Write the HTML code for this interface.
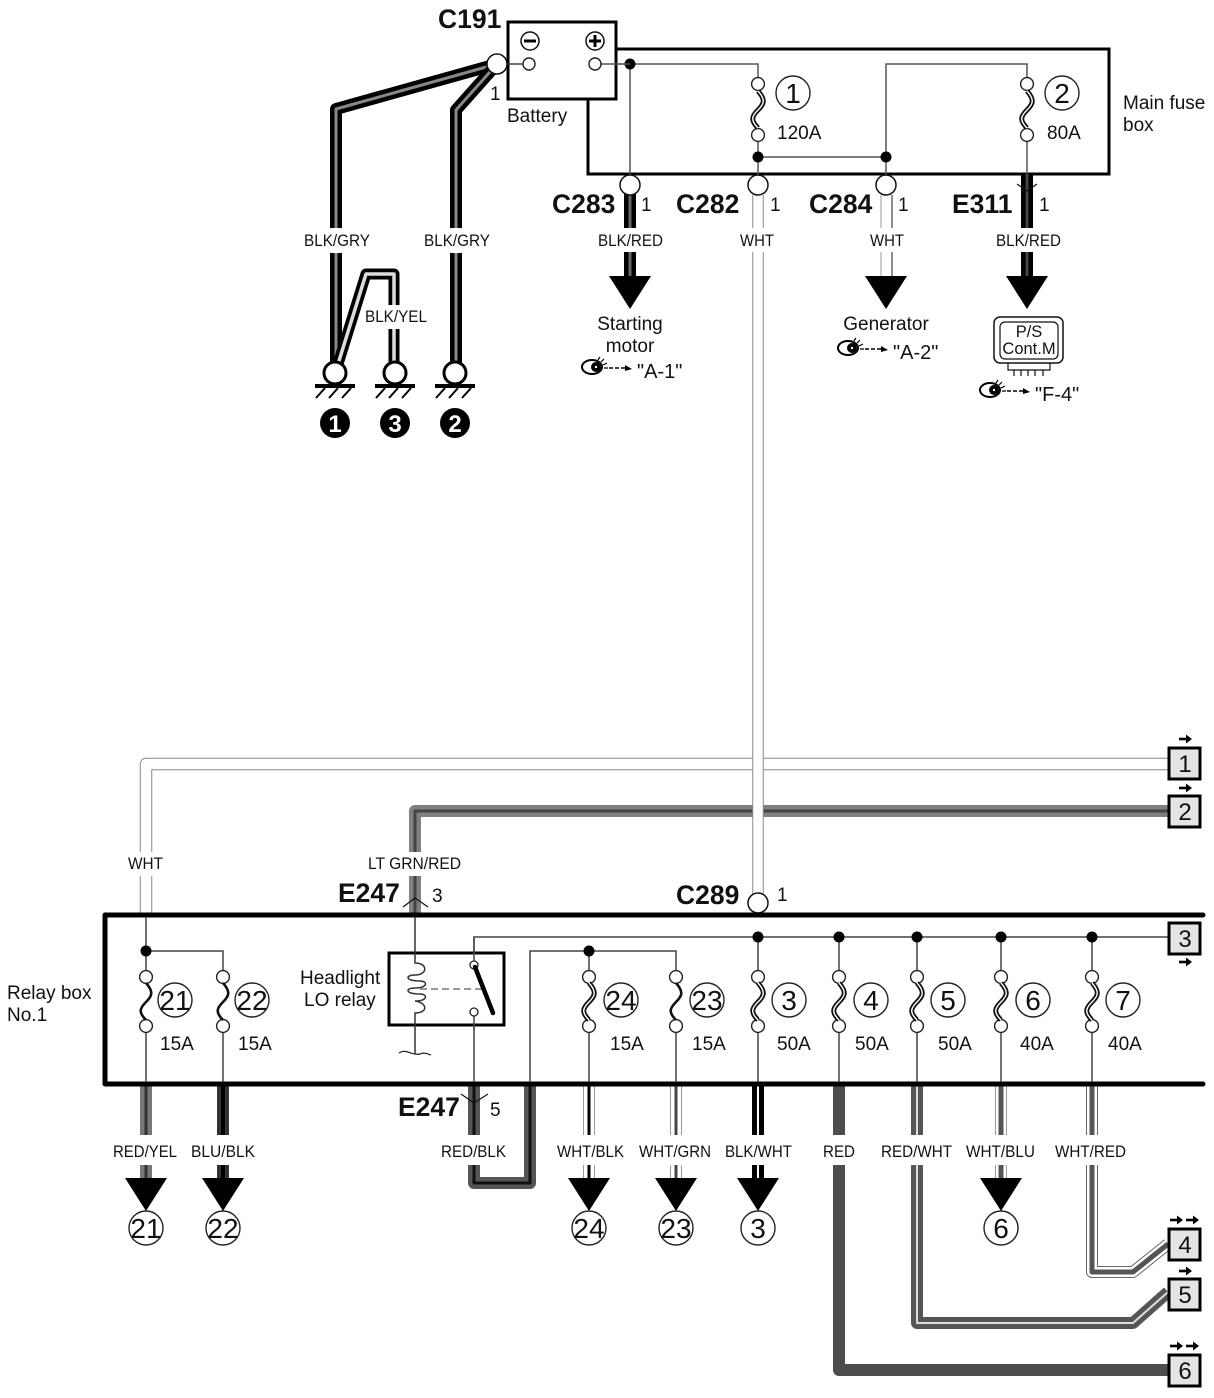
<!DOCTYPE html>
<html><head><meta charset="utf-8"><style>
html,body{margin:0;padding:0;background:#fff}
svg{display:block}
text{font-family:"Liberation Sans",sans-serif;fill:#111}
.b{font-weight:bold;font-size:26.5px}
.n{font-size:19px}
.t{font-size:17px}
.c{font-size:28px;text-anchor:middle}
.a{font-size:19px}
.box{font-size:24px;text-anchor:middle}
</style></head><body>
<svg width="1214" height="1398" viewBox="0 0 1214 1398" xmlns="http://www.w3.org/2000/svg">
<defs>
<g id="fs"><path d="M0,6 C8,15 6,19 0,25 C-6,31 -8,35 0,43" fill="none" stroke="#111" stroke-width="2.6"/></g>
<g id="fd"><path d="M0,6 C8,15 6,19 0,25 C-6,31 -8,35 0,43" fill="none" stroke="#111" stroke-width="5"/><path d="M0,6 C8,15 6,19 0,25 C-6,31 -8,35 0,43" fill="none" stroke="#fff" stroke-width="1.4"/></g>
<path id="tri" d="M-21,0 H21 L0,33 Z" fill="#000"/>
<g id="eye"><ellipse cx="0" cy="0" rx="10" ry="7" fill="#fff" stroke="#000" stroke-width="2"/><circle cx="4" cy="0" r="5" fill="#000"/><circle cx="4" cy="0" r="1.2" fill="#fff"/><path d="M6,-7 L8,-10 M9,-5 L12,-8 M11,-2 L15,-4 M12,1 L16,1" stroke="#000" stroke-width="1.2"/><path d="M17,1 H33" stroke="#000" stroke-width="1.4" stroke-dasharray="4 2"/><path d="M33,-2 L40,2 L33,4 Z" fill="#000"/></g>
<g id="ar"><path d="M-6,0 H2" stroke="#000" stroke-width="2.6"/><path d="M1,-4.5 L7,0 L1,4.5 Z" fill="#000"/></g>
<g id="gnd"><circle r="11" fill="#fff" stroke="#000" stroke-width="3"/><path d="M-20,13 H20" stroke="#000" stroke-width="4"/><path d="M-10,15 L-19,25 M3,15 L-6,25 M16,15 L7,25" stroke="#000" stroke-width="2"/></g>
<circle id="term" r="6.4" fill="#fff" stroke="#222" stroke-width="1.4"/>
<circle id="dot" r="5.5" fill="#000"/>
</defs>
<rect width="1214" height="1398" fill="#fff"/>

<!-- ground wires -->
<g fill="none" stroke-linejoin="round">
<path d="M497,64 L336,109 V365" stroke="#000" stroke-width="12"/>
<path d="M497,64 L336,109 V365" stroke="#888" stroke-width="3"/>
<path d="M497,64 L456,110 V365" stroke="#000" stroke-width="12"/>
<path d="M497,64 L456,110 V365" stroke="#888" stroke-width="3"/>
<path d="M338,364 L366,274 H394 V365" stroke="#000" stroke-width="11"/>
<path d="M338,364 L366,274 H394 V365" stroke="#ddd" stroke-width="3.5"/>
</g>
<rect x="300" y="228" width="75" height="25" fill="#fff"/>
<rect x="420" y="228" width="75" height="25" fill="#fff"/>
<rect x="362" y="305" width="68" height="24" fill="#fff"/>

<!-- main fuse box -->
<rect x="588" y="49" width="521" height="125" fill="#fff" stroke="#000" stroke-width="3"/>
<g fill="none" stroke="#555" stroke-width="1.5">
<path d="M601,64 H758 V79"/>
<path d="M630,64 V175"/>
<path d="M758,141 V175"/>
<path d="M758,157 H886"/>
<path d="M886,175 V64 H1027 V79"/>
<path d="M1027,141 V175"/>
</g>
<use href="#term" x="758" y="84"/><use href="#term" x="758" y="135"/>
<use href="#term" x="1027" y="84"/><use href="#term" x="1027" y="135"/>
<use href="#fd" x="758" y="85"/><use href="#fd" x="1027" y="85"/>
<use href="#dot" x="758" y="157"/><use href="#dot" x="886" y="157"/>
<use href="#dot" x="630" y="64"/>
<circle cx="793" cy="93" r="17" fill="#fff" stroke="#222" stroke-width="1.4"/>
<circle cx="1062" cy="93" r="17" fill="#fff" stroke="#222" stroke-width="1.4"/>
<text class="c" x="793" y="103">1</text><text class="c" x="1062" y="103">2</text>
<text class="a" x="777" y="139">120A</text><text class="a" x="1047" y="139">80A</text>

<!-- battery -->
<rect x="508" y="22" width="108" height="77" fill="#fff" stroke="#000" stroke-width="3"/>
<path d="M507,64 H523" stroke="#333" stroke-width="1.4"/>
<path d="M601,64 H630" stroke="#555" stroke-width="1.5"/>
<circle cx="529" cy="64" r="6" fill="#fff" stroke="#222" stroke-width="1.4"/><circle cx="595" cy="64" r="6" fill="#fff" stroke="#222" stroke-width="1.4"/>
<circle cx="530" cy="41" r="9" fill="#fff" stroke="#111" stroke-width="1.5"/>
<path d="M524,41 H536" stroke="#000" stroke-width="3"/>
<circle cx="595" cy="41" r="9" fill="#fff" stroke="#111" stroke-width="1.5"/>
<path d="M589,41 H601 M595,35 V47" stroke="#000" stroke-width="3"/>
<circle cx="497" cy="64" r="10" fill="#fff" stroke="#111" stroke-width="1.5"/>
<text class="b" x="438" y="28">C191</text>
<text class="n" x="490" y="100">1</text>
<text class="a" x="507" y="122">Battery</text>
<text class="a" x="1123" y="109">Main fuse</text>
<text class="a" x="1123" y="131">box</text>

<!-- outgoing from main box -->
<path d="M630,190 V278" stroke="#000" stroke-width="12"/>
<path d="M630,190 V278" stroke="#666" stroke-width="3"/>
<path d="M1027,174 V278" stroke="#000" stroke-width="12"/>
<path d="M1027,174 V278" stroke="#444" stroke-width="3"/>
<path d="M881,195 V278" stroke="#aaa" stroke-width="1.2"/>
<path d="M892,195 V278" stroke="#444" stroke-width="1.2"/>
<path d="M1017,184 L1027,191 L1037,184" fill="none" stroke="#111" stroke-width="1.2"/>
<circle cx="630" cy="185" r="10" fill="#fff" stroke="#111" stroke-width="1.5"/>
<circle cx="886" cy="185" r="10" fill="#fff" stroke="#111" stroke-width="1.5"/>
<rect x="590" y="228" width="80" height="24" fill="#fff"/>
<rect x="865" y="228" width="44" height="24" fill="#fff"/>
<rect x="990" y="228" width="76" height="24" fill="#fff"/>
<use href="#tri" x="630" y="276"/><use href="#tri" x="886" y="276"/><use href="#tri" x="1027" y="276"/>
<text class="b" x="552" y="213">C283</text><text class="n" x="641" y="211">1</text>
<text class="b" x="676" y="213">C282</text><text class="n" x="770" y="211">1</text>
<text class="b" x="809" y="213">C284</text><text class="n" x="898" y="211">1</text>
<text class="b" x="952" y="213">E311</text><text class="n" x="1039" y="211">1</text>
<text class="t" x="304" y="246" textLength="66" lengthAdjust="spacingAndGlyphs">BLK/GRY</text>
<text class="t" x="424" y="246" textLength="66" lengthAdjust="spacingAndGlyphs">BLK/GRY</text>
<text class="t" x="365" y="322" textLength="62" lengthAdjust="spacingAndGlyphs">BLK/YEL</text>
<text class="t" x="598" y="246" textLength="65" lengthAdjust="spacingAndGlyphs">BLK/RED</text>
<text class="t" x="870" y="246" textLength="34" lengthAdjust="spacingAndGlyphs">WHT</text>
<text class="t" x="996" y="246" textLength="65" lengthAdjust="spacingAndGlyphs">BLK/RED</text>
<text class="a" x="630" y="330" text-anchor="middle">Starting</text>
<text class="a" x="630" y="352" text-anchor="middle">motor</text>
<text class="a" x="886" y="330" text-anchor="middle">Generator</text>
<use href="#eye" x="592" y="367"/><use href="#eye" x="848" y="348"/><use href="#eye" x="990" y="390"/>
<text x="637" y="378" style="font-size:20px">"A-1"</text>
<text x="893" y="359" style="font-size:20px">"A-2"</text>
<text x="1035" y="401" style="font-size:20px">"F-4"</text>
<rect x="994" y="317" width="69" height="46" rx="6" fill="#fff" stroke="#111" stroke-width="1.5"/>
<rect x="1000" y="322" width="58" height="37" rx="5" fill="#fff" stroke="#111" stroke-width="1.2"/>
<path d="M1008,363 V370 H1050 V363 M1014,370 V376 M1021,370 V376 M1028,370 V376 M1035,370 V376 M1043,370 V376" fill="none" stroke="#111" stroke-width="1.2"/>
<text x="1029" y="337" text-anchor="middle" style="font-size:16.5px">P/S</text>
<text x="1029" y="354" text-anchor="middle" style="font-size:16.5px">Cont.M</text>

<!-- ground symbols -->
<use href="#gnd" x="335" y="373"/><use href="#gnd" x="395" y="373"/><use href="#gnd" x="455" y="373"/>
<g style="font-weight:bold;font-size:24px" text-anchor="middle">
<circle cx="335" cy="423" r="15" fill="#000"/><text x="335" y="432" style="fill:#fff">1</text>
<circle cx="395" cy="423" r="15" fill="#000"/><text x="395" y="432" style="fill:#fff">3</text>
<circle cx="455" cy="423" r="15" fill="#000"/><text x="455" y="432" style="fill:#fff">2</text>
</g>

<!-- wire 1 -->
<path d="M146,915 V764 H1168" fill="none" stroke="#888" stroke-width="12.5" stroke-linejoin="round"/>
<path d="M146,915 V764 H1168" fill="none" stroke="#fff" stroke-width="10.5" stroke-linejoin="round"/>
<!-- wire 2 -->
<path d="M415,915 V811 H1168" fill="none" stroke="#808080" stroke-width="12" stroke-linejoin="round"/>
<path d="M415,915 V811 H1168" fill="none" stroke="#444" stroke-width="3" stroke-linejoin="round"/>
<!-- C282 vertical -->
<path d="M758,195 V895" stroke="#888" stroke-width="11.5"/>
<path d="M758,195 V895" stroke="#fff" stroke-width="9.5"/>
<circle cx="758" cy="185" r="10" fill="#fff" stroke="#111" stroke-width="1.5"/>
<circle cx="758" cy="903" r="10" fill="#fff" stroke="#111" stroke-width="1.5"/>
<rect x="736" y="228" width="44" height="24" fill="#fff"/>
<rect x="124" y="852" width="44" height="24" fill="#fff"/>
<rect x="364" y="852" width="102" height="24" fill="#fff"/>
<text class="t" x="128" y="869" textLength="35" lengthAdjust="spacingAndGlyphs">WHT</text>
<text class="t" x="368" y="869" textLength="93" lengthAdjust="spacingAndGlyphs">LT GRN/RED</text>
<text class="t" x="740" y="246" textLength="34" lengthAdjust="spacingAndGlyphs">WHT</text>
<text class="b" x="338" y="902">E247</text><text class="n" x="432" y="902">3</text>
<text class="b" x="676" y="904">C289</text><text class="n" x="777" y="901">1</text>
<path d="M403,907 L415,898 L428,907" fill="none" stroke="#111" stroke-width="1.2"/>

<!-- bottom wires below relay box -->
<g fill="none" stroke-linejoin="round">
<path d="M146,1084 V1180" stroke="#777" stroke-width="12"/><path d="M146,1084 V1180" stroke="#333" stroke-width="3"/>
<path d="M223,1084 V1180" stroke="#333" stroke-width="12"/><path d="M223,1084 V1180" stroke="#000" stroke-width="4"/>
<path d="M474,1084 V1183 H530 V1084" stroke="#555" stroke-width="12"/><path d="M474,1084 V1183 H530 V1084" stroke="#111" stroke-width="3"/>
<path d="M589,1084 V1180" stroke="#999" stroke-width="12"/><path d="M589,1084 V1180" stroke="#fff" stroke-width="10"/><path d="M589,1084 V1180" stroke="#000" stroke-width="3"/>
<path d="M676,1084 V1180" stroke="#999" stroke-width="12"/><path d="M676,1084 V1180" stroke="#fff" stroke-width="10"/><path d="M676,1084 V1180" stroke="#444" stroke-width="3"/>
<path d="M758,1084 V1180" stroke="#000" stroke-width="12"/><path d="M758,1084 V1180" stroke="#fff" stroke-width="2"/>
<path d="M839,1084 V1370 H1168" stroke="#4d4d4d" stroke-width="12"/>
<path d="M917,1084 V1323 H1133 L1168,1292" stroke="#555" stroke-width="12"/><path d="M917,1084 V1323 H1133 L1168,1292" stroke="#ddd" stroke-width="2"/>
<path d="M1001,1084 V1180" stroke="#999" stroke-width="12"/><path d="M1001,1084 V1180" stroke="#fff" stroke-width="10"/><path d="M1001,1084 V1180" stroke="#555" stroke-width="5"/>
<path d="M1092,1084 V1272 H1133 L1168,1244" stroke="#666" stroke-width="12"/><path d="M1092,1084 V1272 H1133 L1168,1244" stroke="#fff" stroke-width="10"/><path d="M1092,1084 V1272 H1133 L1168,1244" stroke="#555" stroke-width="5"/>
</g>
<g fill="#fff">
<rect x="110" y="1135" width="70" height="30"/><rect x="188" y="1135" width="70" height="30"/>
<rect x="438" y="1135" width="72" height="30"/><rect x="553" y="1135" width="74" height="30"/>
<rect x="636" y="1135" width="78" height="30"/><rect x="722" y="1135" width="73" height="30"/>
<rect x="820" y="1135" width="38" height="30"/><rect x="878" y="1135" width="77" height="30"/>
<rect x="963" y="1135" width="75" height="30"/><rect x="1052" y="1135" width="77" height="30"/>
</g>
<g>
<text class="t" x="113" y="1157" textLength="64" lengthAdjust="spacingAndGlyphs">RED/YEL</text>
<text class="t" x="191" y="1157" textLength="64" lengthAdjust="spacingAndGlyphs">BLU/BLK</text>
<text class="t" x="441" y="1157" textLength="65" lengthAdjust="spacingAndGlyphs">RED/BLK</text>
<text class="t" x="557" y="1157" textLength="67" lengthAdjust="spacingAndGlyphs">WHT/BLK</text>
<text class="t" x="639" y="1157" textLength="72" lengthAdjust="spacingAndGlyphs">WHT/GRN</text>
<text class="t" x="725" y="1157" textLength="67" lengthAdjust="spacingAndGlyphs">BLK/WHT</text>
<text class="t" x="823" y="1157" textLength="32" lengthAdjust="spacingAndGlyphs">RED</text>
<text class="t" x="881" y="1157" textLength="71" lengthAdjust="spacingAndGlyphs">RED/WHT</text>
<text class="t" x="966" y="1157" textLength="69" lengthAdjust="spacingAndGlyphs">WHT/BLU</text>
<text class="t" x="1055" y="1157" textLength="71" lengthAdjust="spacingAndGlyphs">WHT/RED</text>
</g>
<use href="#tri" x="146" y="1178"/><use href="#tri" x="223" y="1178"/><use href="#tri" x="589" y="1178"/><use href="#tri" x="676" y="1178"/><use href="#tri" x="758" y="1178"/><use href="#tri" x="1001" y="1178"/>
<g fill="#fff" stroke="#222" stroke-width="1.4">
<circle cx="146" cy="1228" r="17"/><circle cx="223" cy="1228" r="17"/><circle cx="589" cy="1228" r="17"/><circle cx="676" cy="1228" r="17"/><circle cx="758" cy="1228" r="17"/><circle cx="1001" cy="1228" r="17"/>
</g>
<text class="c" x="146" y="1238">21</text><text class="c" x="223" y="1238">22</text><text class="c" x="589" y="1238">24</text><text class="c" x="676" y="1238">23</text><text class="c" x="758" y="1238">3</text><text class="c" x="1001" y="1238">6</text>

<!-- relay box frame -->
<path d="M1203,915 H105 V1084 H1203" fill="none" stroke="#000" stroke-width="5" stroke-linecap="round" stroke-linejoin="round"/>
<text class="a" x="7" y="999">Relay box</text><text class="a" x="7" y="1021">No.1</text>

<!-- relay box internals -->
<g fill="none" stroke="#444" stroke-width="1.5">
<path d="M146,917 V971 M146,1032 V1082"/>
<path d="M146,951 H223 V971 M223,1032 V1082"/>
<path d="M530,1082 V951 H676 V971 M676,1032 V1082"/>
<path d="M589,951 V971 M589,1032 V1082"/>
<path d="M474,961 V937 H1168"/>
<path d="M758,937 V971 M758,1032 V1082"/>
<path d="M839,937 V971 M839,1032 V1082"/>
<path d="M917,937 V971 M917,1032 V1082"/>
<path d="M1001,937 V971 M1001,1032 V1082"/>
<path d="M1092,937 V971 M1092,1032 V1082"/>
<path d="M474,1016 V1082"/>
</g>
<use href="#dot" x="146" y="951"/><use href="#dot" x="589" y="951"/>
<use href="#dot" x="758" y="937"/><use href="#dot" x="839" y="937"/><use href="#dot" x="917" y="937"/><use href="#dot" x="1001" y="937"/><use href="#dot" x="1092" y="937"/>
<g>
<use href="#term" x="146" y="977"/><use href="#term" x="146" y="1026"/>
<use href="#term" x="223" y="977"/><use href="#term" x="223" y="1026"/>
<use href="#term" x="589" y="977"/><use href="#term" x="589" y="1026"/>
<use href="#term" x="676" y="977"/><use href="#term" x="676" y="1026"/>
<use href="#term" x="758" y="977"/><use href="#term" x="758" y="1026"/>
<use href="#term" x="839" y="977"/><use href="#term" x="839" y="1026"/>
<use href="#term" x="917" y="977"/><use href="#term" x="917" y="1026"/>
<use href="#term" x="1001" y="977"/><use href="#term" x="1001" y="1026"/>
<use href="#term" x="1092" y="977"/><use href="#term" x="1092" y="1026"/>
</g>
<use href="#fs" x="146" y="977"/><use href="#fs" x="223" y="977"/><use href="#fs" x="676" y="977"/>
<use href="#fd" x="589" y="977"/><use href="#fd" x="758" y="977"/><use href="#fd" x="839" y="977"/><use href="#fd" x="917" y="977"/><use href="#fd" x="1001" y="977"/><use href="#fd" x="1092" y="977"/>
<g fill="#fff" stroke="#222" stroke-width="1.4">
<circle cx="175" cy="1000" r="17"/><circle cx="252" cy="1000" r="17"/><circle cx="621" cy="1000" r="17"/><circle cx="707" cy="1000" r="17"/><circle cx="789" cy="1000" r="17"/><circle cx="871" cy="1000" r="17"/><circle cx="948" cy="1000" r="17"/><circle cx="1033" cy="1000" r="17"/><circle cx="1123" cy="1000" r="17"/>
</g>
<text class="c" x="175" y="1010">21</text><text class="c" x="252" y="1010">22</text><text class="c" x="621" y="1010">24</text><text class="c" x="707" y="1010">23</text><text class="c" x="789" y="1010">3</text><text class="c" x="871" y="1010">4</text><text class="c" x="948" y="1010">5</text><text class="c" x="1033" y="1010">6</text><text class="c" x="1123" y="1010">7</text>
<text class="a" x="160" y="1050">15A</text><text class="a" x="238" y="1050">15A</text><text class="a" x="610" y="1050">15A</text><text class="a" x="692" y="1050">15A</text><text class="a" x="777" y="1050">50A</text><text class="a" x="855" y="1050">50A</text><text class="a" x="938" y="1050">50A</text><text class="a" x="1020" y="1050">40A</text><text class="a" x="1108" y="1050">40A</text>

<!-- relay -->
<rect x="389" y="953" width="115" height="72" fill="#fff" stroke="#000" stroke-width="3"/>
<path d="M415,917 V963 C428,963 428,975 415,975 C405,975 405,981 420,981 C428,981 428,988 415,988 C405,988 405,994 420,994 C428,994 428,1001 415,1001 C428,1003 428,1013 415,1013 V1054" fill="none" stroke="#333" stroke-width="1.5"/>
<path d="M399,1053 C406,1048 412,1056 420,1054 C424,1052 428,1054 431,1055" fill="none" stroke="#222" stroke-width="1.2"/>
<path d="M420,989 H482" stroke="#777" stroke-width="1.6" stroke-dasharray="7 4"/>
<path d="M474,937 V961 M474,1016 V1030" stroke="#444" stroke-width="1.5"/>
<circle cx="474" cy="965" r="4" fill="#fff" stroke="#222" stroke-width="1.3"/>
<circle cx="474" cy="1012" r="4" fill="#fff" stroke="#222" stroke-width="1.3"/>
<path d="M475,967 L493,1013" stroke="#000" stroke-width="4.5" stroke-linecap="round"/>
<text x="300" y="984" style="font-size:19px">Headlight</text>
<text x="304" y="1006" style="font-size:19px">LO relay</text>
<text class="b" x="398" y="1116">E247</text><text class="n" x="490" y="1116">5</text>
<path d="M461,1094 L474,1103 L488,1094" fill="none" stroke="#111" stroke-width="1.2"/>

<!-- boxes -->
<g fill="#e4e4e4" stroke="#000" stroke-width="3">
<rect x="1169" y="748" width="31" height="31"/>
<rect x="1169" y="796" width="31" height="31"/>
<rect x="1169" y="923" width="31" height="31"/>
<rect x="1169" y="1229" width="31" height="31"/>
<rect x="1169" y="1279" width="31" height="31"/>
<rect x="1169" y="1355" width="31" height="31"/>
</g>
<text class="box" x="1185" y="772">1</text><text class="box" x="1185" y="820">2</text><text class="box" x="1185" y="947">3</text><text class="box" x="1185" y="1253">4</text><text class="box" x="1185" y="1303">5</text><text class="box" x="1185" y="1379">6</text>
<use href="#ar" x="1185" y="739"/><use href="#ar" x="1185" y="788"/><use href="#ar" x="1185" y="962"/>
<use href="#ar" x="1176" y="1220"/><use href="#ar" x="1192" y="1220"/>
<use href="#ar" x="1185" y="1271"/>
<use href="#ar" x="1176" y="1346"/><use href="#ar" x="1192" y="1346"/>
</svg>
</body></html>
